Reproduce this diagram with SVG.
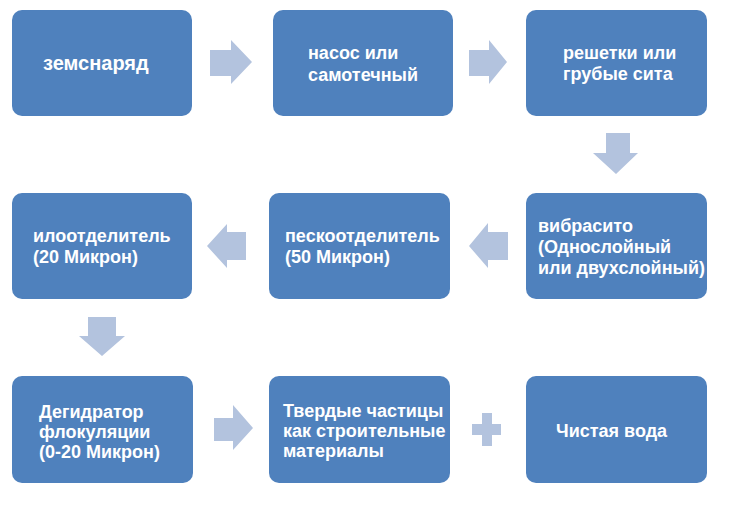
<svg xmlns="http://www.w3.org/2000/svg" width="730" height="507" viewBox="0 0 730 507">
<style>
.box{fill:#4F81BD;}
.arr{fill:#B3C3DE;}
.t{font-family:"Liberation Sans",Arial,sans-serif;font-size:18px;font-weight:bold;fill:#FFFFFF;}
.big{font-size:20px;}
</style>
<rect width="730" height="507" fill="#FFFFFF"/>
<g id="connectors">
<polygon class="arr" points="210,50 231,50 231,40 252,62 231,84 231,76 210,76"/>
<polygon class="arr" points="469,50 489,50 489,40 507,62 489,84 489,76 469,76"/>
<polygon class="arr" points="606,133 630,133 630,153 638,153 616,174 593,153 606,153"/>
<polygon class="arr" points="508,232 488,232 488,223 469,246 488,268 488,260 508,260"/>
<polygon class="arr" points="246,232 227,232 227,224 207,246 227,268 227,260 246,260"/>
<polygon class="arr" points="88,317 116,317 116,336 125,336 102,356 79,336 88,336"/>
<polygon class="arr" points="214,418 233,418 233,405 253,428 233,450 233,441 214,441"/>
<path class="arr" d="M482,413 H492 V424 H501 V435 H492 V446 H482 V435 H472 V424 H482 Z"/>
</g>
<g id="n1"><rect class="box" x="12" y="10" width="180" height="106" rx="10"/>
<text class="t big" x="43" y="70">земснаряд</text></g>
<g id="n2"><rect class="box" x="273" y="10" width="180" height="106" rx="10"/>
<text class="t" x="308" y="59">насос или</text><text class="t" x="308" y="81">самотечный</text></g>
<g id="n3"><rect class="box" x="526" y="10" width="181" height="106" rx="10"/>
<text class="t" x="563" y="59">решетки или</text><text class="t" x="563" y="80">грубые сита</text></g>
<g id="n4"><rect class="box" x="526" y="193" width="181" height="106" rx="10"/>
<text class="t" x="538" y="232">вибрасито</text><text class="t" x="538" y="253">(Однослойный</text><text class="t" x="538" y="274">или двухслойный)</text></g>
<g id="n5"><rect class="box" x="269" y="193" width="181" height="106" rx="10"/>
<text class="t" x="285" y="242">пескоотделитель</text><text class="t" x="285" y="263">(50 Микрон)</text></g>
<g id="n6"><rect class="box" x="12" y="193" width="180" height="106" rx="10"/>
<text class="t" x="33" y="242">илоотделитель</text><text class="t" x="33" y="263">(20 Микрон)</text></g>
<g id="n7"><rect class="box" x="12" y="376" width="181" height="107" rx="10"/>
<text class="t" x="39" y="418">Дегидратор</text><text class="t" x="39" y="438">флокуляции</text><text class="t" x="39" y="458">(0-20 Микрон)</text></g>
<g id="n8"><rect class="box" x="269" y="376" width="181" height="107" rx="10"/>
<text class="t" x="283" y="417">Твердые частицы</text><text class="t" x="283" y="437">как строительные</text><text class="t" x="283" y="457">материалы</text></g>
<g id="n9"><rect class="box" x="526" y="376" width="181" height="107" rx="10"/>
<text class="t" x="556" y="437">Чистая вода</text></g>
</svg>
